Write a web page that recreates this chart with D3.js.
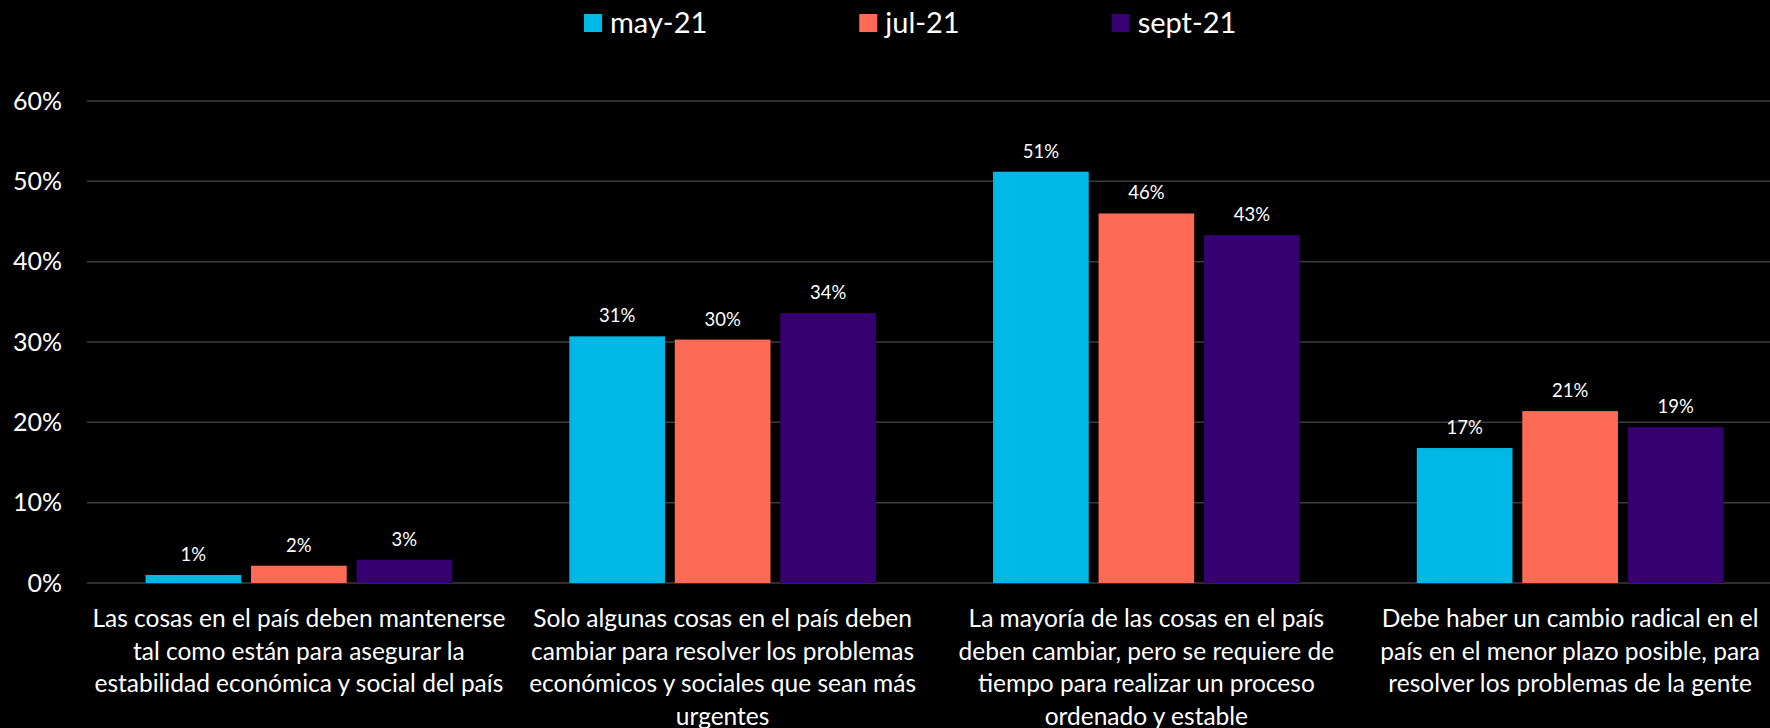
<!DOCTYPE html>
<html lang="es">
<head>
  <meta charset="UTF-8">
  <title>Cambio en el país</title>
  <script src="https://d3js.org/d3.v7.min.js"></script>
  <style>
    html, body { margin: 0; padding: 0; background: #000; }
    svg { display: block; font-family: Lato, "Open Sans", sans-serif; }
    .grid line { stroke: #3c3c3c; stroke-width: 1.5px; }
    .tick-label { fill: #fff; font-size: 25px; }
    .val { fill: #fff; font-size: 18.5px; text-anchor: middle; }
    .cat { fill: #fff; font-size: 24.5px; text-anchor: middle; }
    .leg { fill: #fff; font-size: 29px; }
  </style>
</head>
<body>
<svg width="1770" height="728"></svg>
<script>
// datos
const categories = [
  ["Las cosas en el país deben mantenerse", "tal como están para asegurar la", "estabilidad económica y social del país"],
  ["Solo algunas cosas en el país deben", "cambiar para resolver los problemas", "económicos y sociales que sean más", "urgentes"],
  ["La mayoría de las cosas en el país", "deben cambiar, pero se requiere de", "tiempo para realizar un proceso", "ordenado y estable"],
  ["Debe haber un cambio radical en el", "país en el menor plazo posible, para", "resolver los problemas de la gente"]
];
const seriesNames = ["may-21", "jul-21", "sept-21"];
const mayValues  = [0.010, 0.307, 0.512, 0.168];
const julValues  = [0.0215, 0.303, 0.460, 0.214];
const septValues = [0.029, 0.336, 0.433, 0.194];
const yTicks = [0, 0.1, 0.2, 0.3, 0.4, 0.5, 0.6];
const colors = ["#00b8e6", "#ff6a57", "#370070"];

const series = [mayValues, julValues, septValues];

const svg = d3.select("svg");

// el área de las barras sigue un poco más allá del borde derecho
const x0 = d3.scaleBand().domain(d3.range(categories.length)).range([87, 1782]).padding(0);
const x1 = d3.scaleBand().domain(d3.range(series.length)).range([0, x0.bandwidth()])
  .paddingInner(0.093).paddingOuter(0.555);
const y = d3.scaleLinear().domain([0, 0.6]).range([583, 101]);

// grid
const grid = svg.append("g").attr("class", "grid");
grid.selectAll("line").data(yTicks).join("line")
  .attr("x1", 87).attr("x2", 1770)
  .attr("y1", d => y(d)).attr("y2", d => y(d));

svg.append("g").selectAll("text").data(yTicks).join("text")
  .attr("class", "tick-label")
  .attr("x", 62).attr("y", d => y(d))
  .attr("dy", "0.35em").attr("text-anchor", "end")
  .text(d3.format(".0%"));

// barras
const groups = svg.append("g").selectAll("g").data(categories).join("g")
  .attr("transform", (d, i) => `translate(${x0(i)},0)`);

groups.each(function(c, ci) {
  const g = d3.select(this);
  const vals = series.map((s, si) => ({ si, v: s[ci] }));
  g.selectAll("rect").data(vals).join("rect")
    .attr("x", d => x1(d.si))
    .attr("width", x1.bandwidth())
    .attr("y", d => y(d.v))
    .attr("height", d => y(0) - y(d.v))
    .attr("fill", d => colors[d.si]);
  g.selectAll("text.val").data(vals).join("text")
    .attr("class", "val")
    .attr("x", d => x1(d.si) + x1.bandwidth() / 2)
    .attr("y", d => y(d.v) - 14)
    .text(d => Math.round(d.v * 100) + "%");
  g.selectAll("text.cat").data(c).join("text")
    .attr("class", "cat")
    .attr("x", x0.bandwidth() / 2)
    .attr("y", (d, i) => 627 + i * 32.5)
    .text(d => d);
});

// leyenda
const legend = svg.append("g");
let lx = 584;
seriesNames.forEach((name, i) => {
  legend.append("rect").attr("x", lx).attr("y", 14).attr("width", 18).attr("height", 18).attr("fill", colors[i]);
  const t = legend.append("text").attr("class", "leg").attr("x", lx + 26).attr("y", 33).text(name);
  lx += 26 + t.node().getComputedTextLength() + 152;
});
</script>
</body>
</html>
